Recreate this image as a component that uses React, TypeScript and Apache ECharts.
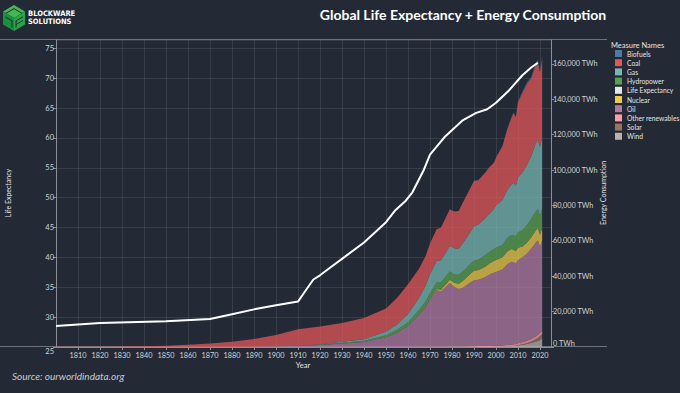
import React, { useEffect, useRef } from "react";
import * as echarts from "echarts";

// ---------- DATA ----------
const energyYears = [1800,1810,1820,1830,1840,1850,1860,1870,1880,1890,1900,1910,1920,1930,1940,1950,
  1955,1960,1965,1968,1970,1973,1975,1979,1981,1983,1985,1988,1990,1992,1995,1997,1999,2000,
  2003,2005,2007,2008,2009,2010,2012,2014,2016,2018,2019,2020,2021];

const coal = [100,130,160,270,400,700,1250,2000,3000,4400,6500,9200,10000,10500,12000,13000,
  15000,16800,16400,16800,17500,18000,18500,20800,20900,21300,23000,24800,25500,25000,25700,26300,26000,27000,
  30500,34000,37500,39500,38400,42500,45000,45800,43800,44500,43900,42300,44500];
const oil = [0,0,0,0,0,0,0,6,35,90,180,520,1110,1970,2770,5440,
  8000,12000,18100,22500,26700,32000,31200,36000,33800,32500,33200,35800,37300,37500,38800,40300,41300,41700,
  43000,45500,46800,46400,45600,47000,48000,49200,51000,53000,53600,48700,51200];
const gas = [0,0,0,0,0,0,0,0,0,30,64,150,233,550,875,2090,
  3000,4600,7000,8900,10600,12200,12600,14400,14700,14800,16100,17800,19500,19900,20900,21600,22600,23900,
  25500,27000,28600,29400,28800,31000,32500,33800,35500,38500,39300,38700,40400];
const hydropower = [0,0,0,0,0,0,0,0,0,0,0,100,250,500,800,1200,
  1700,2000,2600,3000,3300,3700,4000,4600,4700,5000,5200,5400,5700,5800,6400,6600,6800,6900,
  6900,7600,7900,8200,8200,8700,9200,9900,10300,10600,10600,10900,10800];
const nuclear = [0,0,0,0,0,0,0,0,0,0,0,0,0,0,0,0,
  0,10,70,150,220,560,1050,1800,2300,3000,3900,4800,5300,5500,6000,6200,6600,6800,
  6900,7300,7200,7100,6900,7000,6100,6300,6500,6800,6900,6800,6900];
const otherRenewables = [0,0,0,0,0,0,0,0,0,0,0,0,0,0,0,0,
  0,0,100,120,130,150,170,220,240,270,340,420,470,500,570,600,620,640,
  720,800,880,920,960,1100,1200,1300,1450,1550,1600,1700,1800];
const wind = [0,0,0,0,0,0,0,0,0,0,0,0,0,0,0,0,
  0,0,0,0,0,0,0,0,0,0,0,0,10,12,20,30,55,85,
  170,270,450,560,720,880,1300,1700,2300,3000,3400,4000,4700];
const solar = [0,0,0,0,0,0,0,0,0,0,0,0,0,0,0,0,
  0,0,0,0,0,0,0,0,0,0,0,0,0,0,0,0,0,0,
  0,10,20,35,55,85,250,470,800,1400,1750,2200,2700];
const biofuels = [0,0,0,0,0,0,0,0,0,0,0,0,0,0,0,0,
  0,0,0,0,0,0,0,0,0,0,0,0,110,120,130,135,140,140,
  200,270,450,560,600,670,700,800,850,1000,1100,1000,1100];

const lifeYears = [1800,1820,1850,1870,1880,1890,1900,1910,1913,1917,1920,1925,1932,1940,1950,1954,1959,1962,1967,1970,1977,1985,1991,1996,2000,2006,2012,2016,2019];
const lifeExpectancy = [28.5,29.0,29.3,29.7,30.5,31.3,32.0,32.6,34.2,36.3,37.0,38.4,40.3,42.5,45.9,47.8,49.5,50.9,54.5,57.2,60.3,63.0,64.2,64.8,65.9,68.0,70.5,71.8,72.6];

const legendNames = ["Biofuels","Coal","Gas","Hydropower","Life Expectancy","Nuclear","Oil","Other renewables","Solar","Wind"];

// ---------- STYLE ----------
const BG = "#232a35";
const FONT = "Lato, 'Noto Sans', sans-serif";
const COLORS: Record<string, string> = {
  Biofuels: "#4e79a7",
  Coal: "#e15759",
  Gas: "#76b7b2",
  Hydropower: "#59a14f",
  "Life Expectancy": "#e6e6e6",
  Nuclear: "#edc948",
  Oil: "#b07aa1",
  "Other renewables": "#ff9da7",
  Solar: "#9c755f",
  Wind: "#bab0ac",
};

// stacking order bottom -> top
const stackOrder: [string, number[]][] = [
  ["Wind", wind],
  ["Solar", solar],
  ["Other renewables", otherRenewables],
  ["Oil", oil],
  ["Nuclear", nuclear],
  ["Hydropower", hydropower],
  ["Gas", gas],
  ["Coal", coal],
  ["Biofuels", biofuels],
];

const fmtTWh = (v: number) =>
  String(Math.round(v)).replace(/\B(?=(\d{3})+(?!\d))/g, ",") + " TWh";

export default function App() {
  const ref = useRef<HTMLDivElement>(null);

  useEffect(() => {
    document.body.style.margin = "0";
    document.body.style.background = BG;
    if (!ref.current) return;
    const chart = echarts.init(ref.current, null, { renderer: "svg" });

    // value first so that the stacked dimension is the y (value) one
    const areaSeries = stackOrder.map(([name, vals]) => ({
      name,
      type: "line",
      stack: "energy",
      yAxisIndex: 1,
      symbol: "none",
      showSymbol: false,
      encode: { x: 1, y: 0 },
      lineStyle: { width: 0 },
      itemStyle: { color: COLORS[name] },
      areaStyle: { color: COLORS[name], opacity: 0.75 },
      data: energyYears.map((y, i) => [vals[i], y]),
      z: 2,
    }));

    const axisLineColor = "#8a8f98";
    const gridColor = "rgba(255,255,255,0.09)";
    const labelColor = "#d2d4d8";

    const option: any = {
      animation: false,
      backgroundColor: BG,
      textStyle: { fontFamily: FONT },
      grid: { left: 56, right: 129, top: 40, bottom: 46 },
      legend: {
        orient: "vertical",
        left: 610,
        top: 44,
        padding: 5,
        icon: "rect",
        itemWidth: 7,
        itemHeight: 7,
        itemGap: 0.2,
        data: legendNames,
        textStyle: { color: "#e4e4e4", fontSize: 6.7, fontFamily: FONT, lineHeight: 9 },
        selectedMode: false,
      },
      xAxis: {
        type: "value",
        min: 1800,
        max: 2025,
        interval: 10,
        axisLine: { show: true, lineStyle: { color: axisLineColor } },
        axisTick: { show: true, length: 3, lineStyle: { color: axisLineColor } },
        splitLine: { show: true, lineStyle: { color: gridColor } },
        axisLabel: {
          color: labelColor,
          fontSize: 7.3,
          margin: 5,
          showMinLabel: false,
          showMaxLabel: false,
          formatter: (v: number) => String(v),
        },
      },
      yAxis: [
        {
          type: "value",
          position: "left",
          min: 25,
          max: 76.4,
          interval: 5,
          axisLine: { show: true, lineStyle: { color: axisLineColor } },
          axisTick: { show: true, length: 3, lineStyle: { color: axisLineColor } },
          splitLine: { show: true, lineStyle: { color: gridColor } },
          axisLabel: {
            color: labelColor,
            fontSize: 7.5,
            margin: 2,
            showMaxLabel: false,
            verticalAlignMinLabel: "top",
            formatter: (v: number) => String(v),
          },
        },
        {
          type: "value",
          position: "right",
          min: 0,
          max: 173500,
          interval: 20000,
          axisLine: { show: true, lineStyle: { color: axisLineColor } },
          axisTick: { show: true, length: 3, lineStyle: { color: axisLineColor } },
          splitLine: { show: false },
          axisLabel: {
            color: labelColor,
            fontSize: 7.3,
            margin: 2,
            showMaxLabel: false,
            verticalAlignMinLabel: "bottom",
            formatter: (v: number) => fmtTWh(v),
          },
        },
      ],
      series: [
        ...areaSeries,
        {
          name: "Life Expectancy",
          type: "line",
          yAxisIndex: 0,
          symbol: "none",
          showSymbol: false,
          smooth: false,
          itemStyle: { color: COLORS["Life Expectancy"] },
          lineStyle: { color: "#ffffff", width: 2 },
          data: lifeYears.map((y, i) => [y, lifeExpectancy[i]]),
          z: 5,
        },
      ],
      graphic: [
        // header separator and bottom pane border
        { type: "line", shape: { x1: 0, y1: 39.5, x2: 607, y2: 39.5 }, style: { stroke: "#6d727b", lineWidth: 1 }, silent: true },
        { type: "line", shape: { x1: 0, y1: 346.5, x2: 607, y2: 346.5 }, style: { stroke: "#6d727b", lineWidth: 1 }, silent: true },
        // logo
        { type: "polygon", shape: { points: [[14, 5], [25, 11.5], [14, 18], [3, 11.5]] }, style: { fill: "#45b653" } },
        { type: "polygon", shape: { points: [[3, 11.5], [14, 18], [14, 31], [3, 24.5]] }, style: { fill: "#1b8f3d" } },
        { type: "polygon", shape: { points: [[14, 18], [25, 11.5], [25, 24.5], [14, 31]] }, style: { fill: "#27a547" } },
        { type: "polyline", shape: { points: [[6, 13.3], [14, 8.6], [22, 13.3]] }, style: { stroke: BG, lineWidth: 1, fill: null } },
        { type: "polyline", shape: { points: [[5.5, 17], [12, 20.8], [12, 27.5]] }, style: { stroke: BG, lineWidth: 1, fill: null } },
        { type: "polyline", shape: { points: [[16, 27.5], [16, 20.8], [23, 16.8]] }, style: { stroke: BG, lineWidth: 1, fill: null } },
        { type: "polyline", shape: { points: [[16, 24.5], [23, 20.5]] }, style: { stroke: BG, lineWidth: 1, fill: null } },
        { type: "text", left: 28, top: 9, style: { text: "BLOCKWARE", fill: "#ffffff", font: "bold 7.5px 'Liberation Sans Narrow', 'DejaVu Sans Condensed', Lato, sans-serif" } },
        { type: "text", left: 28, top: 17, style: { text: "SOLUTIONS", fill: "#ffffff", font: "bold 7.5px 'Liberation Sans Narrow', 'DejaVu Sans Condensed', Lato, sans-serif" } },
        // title
        { type: "text", x: 463, y: 14, style: { text: "Global Life Expectancy + Energy Consumption", fill: "#ffffff", font: "bold 14px Lato, sans-serif", align: "center", verticalAlign: "middle" } },
        // legend title
        { type: "text", x: 611, y: 45.5, style: { text: "Measure Names", fill: "#e4e4e4", font: "7.5px Lato, sans-serif", align: "left", verticalAlign: "middle" } },
        // axis titles
        { type: "text", x: 8, y: 193, rotation: Math.PI / 2, style: { text: "Life Expectancy", fill: "#e4e4e4", font: "7px Lato, sans-serif", align: "center", verticalAlign: "middle" } },
        { type: "text", x: 603, y: 193, rotation: Math.PI / 2, style: { text: "Energy Consumption", fill: "#e4e4e4", font: "7px Lato, sans-serif", align: "center", verticalAlign: "middle" } },
        { type: "text", x: 303, y: 365, style: { text: "Year", fill: "#e4e4e4", font: "7.5px Lato, sans-serif", align: "center", verticalAlign: "middle" } },
        // source
        { type: "text", x: 12, y: 376, style: { text: "Source: ourworldindata.org", fill: "#c9cbd0", font: "italic 10px Lato, sans-serif", align: "left", verticalAlign: "middle" } },
      ],
    };

    chart.setOption(option);
    return () => chart.dispose();
  }, []);

  return (
    <div
      ref={ref}
      style={{ position: "fixed", left: 0, top: 0, width: 680, height: 393, background: BG }}
    />
  );
}
